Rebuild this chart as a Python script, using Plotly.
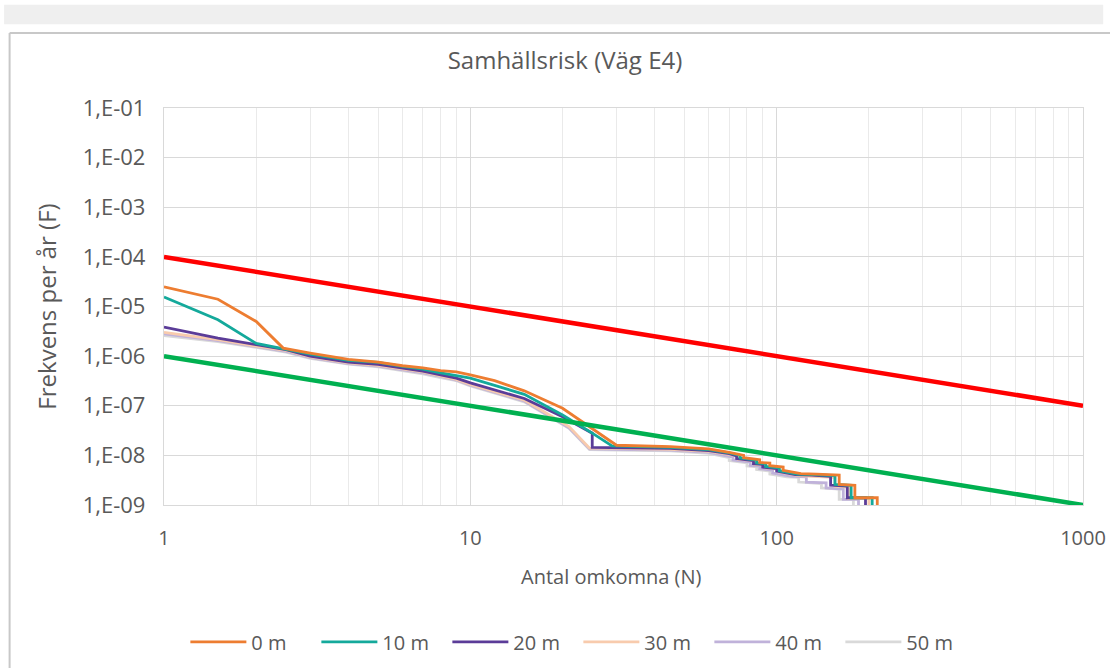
import plotly.graph_objects as go

# F/N curves (antal omkomna N, frekvens per år F) per avstånd
n_0m = [1, 1.5, 2.0, 2.45, 3, 4, 5, 6, 7, 8, 9, 10, 12, 15, 20, 25, 30, 45, 60, 70, 78, 78, 85, 88, 88,
        95, 95, 105, 105, 115, 120, 135, 160, 160, 180, 180, 213, 213]
f_0m = [2.5e-5, 1.4e-5, 5.0e-6, 1.45e-6, 1.15e-6, 8.6e-7, 7.6e-7, 6.4e-7, 5.8e-7, 5.1e-7, 4.8e-7, 4.2e-7,
        3.2e-7, 2.0e-7, 8.9e-8, 3.5e-8, 1.6e-8, 1.5e-8, 1.35e-8, 1.15e-8, 1.0e-8, 9.0e-9, 8.5e-9, 8.2e-9,
        7.2e-9, 7.0e-9, 6.2e-9, 5.8e-9, 5.0e-9, 4.6e-9, 4.3e-9, 4.2e-9, 4.0e-9, 2.6e-9, 2.5e-9, 1.4e-9,
        1.4e-9, 1.0e-9]

n_10m = [1, 1.5, 2.0, 3, 4, 5, 6, 7, 8, 9, 10, 15, 20, 25, 29, 45, 60, 70, 76, 76, 83, 86, 86, 92, 92,
         102, 102, 112, 117, 132, 155, 155, 175, 175, 205, 205]
f_10m = [1.55e-5, 5.4e-6, 1.8e-6, 1.1e-6, 8.2e-7, 7.5e-7, 6.2e-7, 5.5e-7, 4.6e-7, 4.0e-7, 3.6e-7, 1.7e-7,
         6.5e-8, 2.8e-8, 1.55e-8, 1.45e-8, 1.3e-8, 1.12e-8, 1.0e-8, 8.8e-9, 8.3e-9, 8.0e-9, 7.0e-9, 6.8e-9,
         6.0e-9, 5.6e-9, 4.9e-9, 4.5e-9, 4.2e-9, 4.1e-9, 3.9e-9, 2.6e-9, 2.5e-9, 1.4e-9, 1.4e-9, 1.0e-9]

n_20m = [1, 1.5, 2, 2.5, 3, 4, 5, 6, 7, 8, 9, 10, 15, 20, 25, 25, 30, 45, 60, 70, 74, 74, 80, 84, 84, 90,
         90, 100, 100, 110, 115, 130, 150, 150, 170, 170, 195, 195]
f_20m = [3.85e-6, 2.3e-6, 1.7e-6, 1.35e-6, 1.0e-6, 7.6e-7, 6.8e-7, 5.7e-7, 5.0e-7, 4.2e-7, 3.6e-7, 2.9e-7,
         1.4e-7, 6.0e-8, 2.8e-8, 1.45e-8, 1.42e-8, 1.38e-8, 1.25e-8, 1.08e-8, 9.8e-9, 8.6e-9, 8.1e-9,
         7.8e-9, 6.8e-9, 6.6e-9, 5.8e-9, 5.4e-9, 4.8e-9, 4.4e-9, 4.1e-9, 4.0e-9, 3.8e-9, 2.5e-9, 2.4e-9,
         1.4e-9, 1.4e-9, 1.0e-9]

n_30m = [1, 1.5, 2, 2.5, 3, 4, 5, 6, 7, 8, 9, 10, 15, 21, 24.5, 30, 45, 60, 70, 75, 75, 82, 85, 85, 92,
         92, 102, 102, 110, 118, 130, 155, 155, 172, 172, 200, 200]
f_30m = [3.0e-6, 2.15e-6, 1.6e-6, 1.3e-6, 9.6e-7, 7.3e-7, 6.5e-7, 5.5e-7, 4.8e-7, 4.0e-7, 3.4e-7, 2.7e-7,
         1.3e-7, 3.8e-8, 1.4e-8, 1.38e-8, 1.33e-8, 1.2e-8, 1.05e-8, 9.5e-9, 8.4e-9, 7.9e-9, 7.6e-9, 6.6e-9,
         6.4e-9, 5.6e-9, 5.2e-9, 4.6e-9, 4.2e-9, 3.9e-9, 3.8e-9, 3.6e-9, 2.4e-9, 2.3e-9, 1.35e-9, 1.35e-9,
         1.0e-9]

n_40m = [1, 1.5, 2, 2.5, 3, 4, 5, 6, 7, 8, 9, 10, 15, 21, 24.5, 30, 45, 60, 68, 72, 72, 78, 82, 82, 88,
         88, 97, 97, 105, 112, 125, 125, 145, 145, 165, 165, 185, 185]
f_40m = [2.8e-6, 2.05e-6, 1.55e-6, 1.25e-6, 9.3e-7, 7.1e-7, 6.3e-7, 5.3e-7, 4.6e-7, 3.9e-7, 3.3e-7, 2.6e-7,
         1.25e-7, 3.6e-8, 1.35e-8, 1.33e-8, 1.28e-8, 1.15e-8, 1.0e-8, 9.2e-9, 8.1e-9, 7.6e-9, 7.3e-9,
         6.3e-9, 6.1e-9, 5.4e-9, 5.0e-9, 4.4e-9, 4.0e-9, 3.8e-9, 3.7e-9, 2.9e-9, 2.8e-9, 2.2e-9, 2.1e-9,
         1.3e-9, 1.3e-9, 1.0e-9]

n_50m = [1, 1.5, 2, 2.5, 3, 4, 5, 6, 7, 8, 9, 10, 15, 21, 24.5, 30, 45, 60, 66, 70, 70, 76, 80, 80, 86,
         86, 95, 95, 102, 108, 118, 118, 140, 140, 160, 160, 178, 178]
f_50m = [2.6e-6, 1.95e-6, 1.5e-6, 1.2e-6, 9.0e-7, 6.9e-7, 6.1e-7, 5.1e-7, 4.4e-7, 3.7e-7, 3.2e-7, 2.5e-7,
         1.2e-7, 3.5e-8, 1.3e-8, 1.28e-8, 1.24e-8, 1.1e-8, 9.8e-9, 9.0e-9, 7.9e-9, 7.4e-9, 7.1e-9, 6.1e-9,
         5.9e-9, 5.2e-9, 4.8e-9, 4.2e-9, 3.9e-9, 3.7e-9, 3.6e-9, 2.9e-9, 2.7e-9, 2.2e-9, 2.1e-9, 1.3e-9,
         1.3e-9, 1.0e-9]

# acceptanskriterier: övre och nedre gräns
crit_n = [1, 1000]
upper_f = [1e-4, 1e-7]
lower_f = [1e-6, 1e-9]

series = [
    ("0 m", n_0m, f_0m, "#ED7D31"),
    ("10 m", n_10m, f_10m, "#14A99B"),
    ("20 m", n_20m, f_20m, "#5B3C98"),
    ("30 m", n_30m, f_30m, "#F8CBAD"),
    ("40 m", n_40m, f_40m, "#C0B2DA"),
    ("50 m", n_50m, f_50m, "#D9D9D9"),
]

y_tickvals = [1e-1, 1e-2, 1e-3, 1e-4, 1e-5, 1e-6, 1e-7, 1e-8, 1e-9]
y_ticktext = ["1,E-01", "1,E-02", "1,E-03", "1,E-04", "1,E-05", "1,E-06", "1,E-07", "1,E-08", "1,E-09"]
x_tickvals = [1, 10, 100, 1000]
x_ticktext = ["1", "10", "100", "1000"]

FONT = "Open Sans"
GREY_TXT = "#595959"

fig = go.Figure()

# light series drawn first so the darker ones sit on top
for rank, (name, n, f, col) in reversed(list(enumerate(series))):
    fig.add_trace(go.Scatter(x=n, y=f, mode="lines", name=name, legendrank=rank + 1,
                             line=dict(color=col, width=2.8)))

fig.add_trace(go.Scatter(x=crit_n, y=upper_f, mode="lines", showlegend=False,
                         line=dict(color="#FF0000", width=4.5)))
fig.add_trace(go.Scatter(x=crit_n, y=lower_f, mode="lines", showlegend=False,
                         line=dict(color="#00B050", width=4.5)))

minor_x = [2, 3, 4, 5, 6, 7, 8, 9, 20, 30, 40, 50, 60, 70, 80, 90, 200, 300, 400, 500, 600, 700, 800, 900]

# plot area: 919 x 397 px
fig.update_layout(
    width=1110, height=668,
    margin=dict(l=164, r=27, t=108, b=163, autoexpand=False),
    paper_bgcolor="white", plot_bgcolor="white",
    font=dict(family=FONT, color=GREY_TXT, size=20),
    title=dict(text="Samhällsrisk (Väg E4)", x=0.509, xanchor="center", y=0.91, yanchor="middle",
               font=dict(family=FONT, size=24, color=GREY_TXT)),
    xaxis=dict(type="log", range=[0, 3], tickvals=x_tickvals, ticktext=x_ticktext,
               showgrid=True, gridcolor="#D9D9D9", gridwidth=1.3,
               minor=dict(tickvals=minor_x, showgrid=True, gridcolor="#EAEAEA", gridwidth=1.3),
               showline=True, linecolor="#D9D9D9", linewidth=1.3, mirror=True,
               zeroline=False, ticks="", ticklabelstandoff=15, automargin=False,
               tickfont=dict(size=20, color=GREY_TXT)),
    yaxis=dict(type="log", range=[-9, -1], tickvals=y_tickvals, ticktext=y_ticktext,
               showgrid=True, gridcolor="#D9D9D9", gridwidth=1.3,
               showline=True, linecolor="#D9D9D9", linewidth=1.3, mirror=True,
               zeroline=False, ticks="", ticklabelstandoff=13, automargin=False,
               tickfont=dict(size=22, color=GREY_TXT),
               title=dict(text="Frekvens per år (F)", standoff=19, font=dict(size=24, color=GREY_TXT))),
    annotations=[
        dict(text="Antal omkomna (N)", xref="paper", yref="paper", x=0.4864, y=-0.181,
             xanchor="center", yanchor="middle", showarrow=False,
             font=dict(family=FONT, size=20, color=GREY_TXT)),
    ],
    legend=dict(orientation="h", xref="container", yref="container", x=0.167, xanchor="left",
                y=0.039, yanchor="middle", font=dict(size=20, color=GREY_TXT),
                itemwidth=56, entrywidth=60, entrywidthmode="pixels", traceorder="normal"),
    shapes=[
        # header band and chart frame
        dict(type="rect", xref="paper", yref="paper", x0=-0.174, x1=1.022, y0=1.211, y1=1.26,
             fillcolor="#EFEFEF", line=dict(width=0), layer="below"),
        dict(type="line", xref="paper", yref="paper", x0=-0.168, x1=1.03, y0=1.189, y1=1.189,
             line=dict(color="#C8C8C8", width=2), layer="below"),
        dict(type="line", xref="paper", yref="paper", x0=-0.168, x1=-0.168, y0=1.189, y1=-0.42,
             line=dict(color="#C8C8C8", width=2), layer="below"),
    ],
)

fig.write_html("out.html")
